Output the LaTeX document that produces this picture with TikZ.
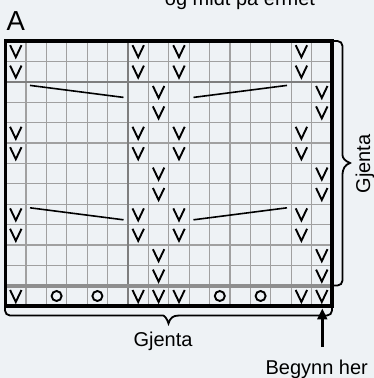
\documentclass[tikz,border=0pt]{standalone}
\usepackage{fontspec}
\setmainfont{Liberation Sans}
\usetikzlibrary{arrows.meta}
\definecolor{bg}{HTML}{EEF2F5}
\definecolor{gridc}{HTML}{A0A0A0}
\definecolor{darkgrid}{HTML}{7E7E7E}
\definecolor{band}{HTML}{8E8E8E}
\tikzset{
  gridline/.style={draw=gridc, line width=1.3pt},
  darkline/.style={draw=darkgrid, line width=2pt},
  bandline/.style={draw=band, line width=4pt},
  border/.style={draw=black, line width=3.6pt},
  symline/.style={draw=black, line width=1.9pt, line join=miter},
  diagline/.style={draw=black, line width=1.6pt},
  bracket/.style={draw=black, line width=1.8pt},
  lbl/.style={font=\fontsize{20}{24}\selectfont, inner sep=0pt, text=black},
  vsym/.pic={\draw[symline] (-5.7,-6) -- (0,6) -- (5.7,-6);},
  osym/.pic={\draw[symline] (0,0) circle[radius=5];}
}
\begin{document}
\begin{tikzpicture}[x=1pt,y=-1pt]
\useasboundingbox (0,0) rectangle (374,378);
\fill[bg] (0,0) rectangle (374,378);
% grid
\foreach \i in {1,...,15} \draw[gridline] ({5.6+20.4*\i},41) -- ({5.6+20.4*\i},306.2);
\foreach \j in {1,...,12} \draw[gridline] (5.6,{41+20.4*\j}) -- (332,{41+20.4*\j});
\draw[darkline] ({5.6+20.4*6},41) -- ({5.6+20.4*6},306.2);
\draw[darkline] (5.6,{41+20.4*2}) -- (332,{41+20.4*2});
\draw[bandline] (4,{41+20.4*12}) -- (333,{41+20.4*12});
\draw[border] (5.6,41) rectangle (332,306.2);
% symbols
\foreach \r in {1,2,5,6,9,10} \foreach \c in {1,7,9,15}
  \pic at ({5.6+20.4*(\c-0.5)},{41+20.4*(\r-0.5)}) {vsym};
\foreach \r in {3,4,7,8,11,12} \foreach \c in {8,16}
  \pic at ({5.6+20.4*(\c-0.5)},{41+20.4*(\r-0.5)}) {vsym};
\foreach \c in {1,7,8,9,15,16}
  \pic at ({5.6+20.4*(\c-0.5)},{41+20.4*12.5}) {vsym};
\foreach \c in {3,5,11,13}
  \pic at ({5.6+20.4*(\c-0.5)},{41+20.4*12.5}) {osym};
% diagonals
\foreach \r in {3,9} {
  \draw[diagline] (30,{41+20.4*(\r-1)+3.6}) -- (123.5,{41+20.4*(\r-1)+15.6});
  \draw[diagline] (193.5,{41+20.4*(\r-1)+15.6}) -- (287,{41+20.4*(\r-1)+3.6});
}
% right bracket
\draw[bracket] (333,41) [rounded corners=5pt] -- (342.5,41) -- (342.5,150) [sharp corners]
  .. controls (342.5,158) and (345,161) .. (350,163)
  .. controls (345,165) and (342.5,168) .. (342.5,176) [rounded corners=5pt]
  -- (342.5,285.5) -- (333,285.5);
% bottom bracket
\draw[bracket] (5,304) [rounded corners=5pt] -- (5,315.5) -- (158,315.5) [sharp corners]
  .. controls (164,315.5) and (167,318) .. (168.5,323.5)
  .. controls (170,318) and (173,315.5) .. (179,315.5) [rounded corners=5pt]
  -- (332,315.5) -- (332,306);
% texts
\node[lbl, anchor=base] (toptext) at (240,5.5) {og midt på ermet};
\node[font=\fontsize{27.5}{30}\selectfont, inner sep=0pt, anchor=base west] (A) at (6.5,30) {A};
\node[lbl, rotate=90, anchor=base] (gjr) at (370,164) {Gjenta};
\node[lbl, anchor=base] (gjb) at (163,346.7) {Gjenta};
\node[lbl, anchor=base] (start) at (316.7,374) {Begynn her};
% arrow
\coordinate (tail) at (322.3,347);
\coordinate (entry) at (322.3,308.3);
\draw[line width=3pt, -{Triangle[length=11pt,width=9.5pt]}] (tail) -- (entry);
\end{tikzpicture}
\end{document}
